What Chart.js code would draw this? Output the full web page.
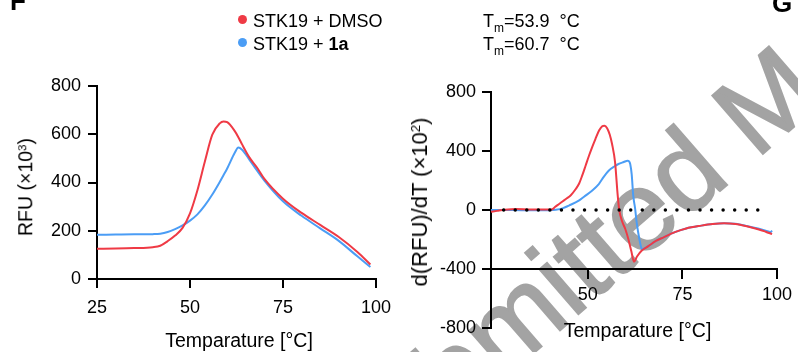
<!DOCTYPE html>
<html>
<head>
    <title>STK19 thermal shift</title>
    <script src="https://cdn.jsdelivr.net/npm/chart.js"></script>
    <style>
        body { margin: 0; width: 798px; height: 352px; position: relative; overflow: hidden; background: #fff;
               font-family: Arial, "Liberation Sans", sans-serif; color: #000; }
        .abs { position: absolute; white-space: nowrap; line-height: 1; }
        .xtitle { font-size: 19.5px; transform: translate(-50%, -50%); }
        .ytitle { font-size: 19.5px; transform: translate(-50%, -50%) rotate(-90deg); }
        .legend { font-size: 18px; }
        .dot { position: absolute; width: 9px; height: 9px; border-radius: 50%; }
        sup { font-size: 0.6em; vertical-align: 0.55em; line-height: 0; }
        sub { font-size: 12px; vertical-align: -5px; line-height: 0; }
        canvas { position: absolute; top: 0; }
    </style>
</head>
<body>
    <canvas id="mark" width="798" height="352" style="left:0"></canvas>
    <canvas id="meltChart" width="400" height="352" style="left:0"></canvas>
    <canvas id="derivChart" width="398" height="352" style="left:400px"></canvas>

    <div class="abs" style="left:10px; top:-12px; font-size:26px; font-weight:bold;">F</div>
    <div class="abs" style="left:772px; top:-10px; font-size:26px; font-weight:bold;">G</div>

    <!-- legend -->
    <div class="dot" style="left:238px; top:15px; background:#ef3a45;"></div>
    <div class="dot" style="left:238px; top:38px; background:#4b9df5;"></div>
    <div class="abs legend" style="left:253px; top:11.5px;">STK19 + DMSO</div>
    <div class="abs legend" style="left:253px; top:34.8px;">STK19 + <b>1a</b></div>
    <div class="abs legend" style="left:483px; top:11.5px;">T<sub>m</sub>=53.9&nbsp; °C</div>
    <div class="abs legend" style="left:483px; top:34.8px;">T<sub>m</sub>=60.7&nbsp; °C</div>

    <!-- axis titles -->
    <div class="abs xtitle" style="left:239px; top:341px;">Temparature [°C]</div>
    <div class="abs xtitle" style="left:637.5px; top:331px;">Temparature [°C]</div>
    <div class="abs ytitle" style="left:25.5px; top:187px;">RFU (×10<sup>3</sup>)</div>
    <div class="abs ytitle" style="left:419.5px; top:201.5px; font-size:22px;">d(RFU)/dT (×10<sup>2</sup>)</div>

<script>
const redColor = '#ef3a45';
const blueColor = '#4b9df5';

// melt curves, RFU x10^3
const meltTemps = [25, 30, 35, 40, 42, 44, 46, 48, 50, 52, 54, 56, 58, 59, 60, 62, 63, 64, 66, 68, 70, 75, 80, 85, 90, 95, 98.5];
const meltDmso  = [125, 126, 128, 132, 138, 157, 180, 212, 272, 368, 487, 598, 645, 653, 650, 614, 588, 558, 503, 462, 415, 333, 274, 224, 174, 112, 60];
const melt1a    = [183, 184, 185, 186, 188, 195, 207, 222, 242, 268, 305, 350, 402, 430, 458, 522, 545, 536, 494, 450, 408, 322, 262, 210, 158, 94, 50];
const meltXTicks = [25, 50, 75, 100];
const meltYTicks = [0, 200, 400, 600, 800];

// first derivative, d(RFU)/dT x10^2
const derivTempsDmso = [24.4, 26, 28, 31, 35, 40, 40.6, 41.3, 42.4, 43.3, 44.2, 45.5, 46.8, 47.7, 48.5, 49.4, 50.3, 51.2, 52, 53, 53.8, 54.4, 55.1, 55.8, 56.4, 57.2, 57.9, 58.3, 59.1, 59.9, 60.7, 61.5, 62.2, 63, 64.2, 66, 68, 70, 73, 76, 80, 83, 86, 89, 92, 95, 97, 98.7];
const derivDmso      = [-12, -6, 1, 6, 3, 3, 5, 20, 41, 58, 75, 100, 142, 180, 233, 300, 368, 430, 481, 540, 568, 572, 555, 510, 447, 323, 97, 0, -80, -129, -197, -280, -350, -315, -276, -245, -210, -185, -150, -125, -106, -95, -90, -95, -110, -130, -147, -163];
const derivTemps1a = [24.4, 30, 35, 40, 41.5, 43.3, 45, 47.6, 49, 51.1, 52.9, 54.2, 55.5, 57, 58.1, 59.5, 60.5, 60.9, 61.2, 61.6, 62, 62.5, 62.9, 63.3, 63.8, 64.3, 65, 66, 68, 70, 73, 76, 80, 83, 86, 89, 92, 95, 97, 98.3, 98.7];
const deriv1a      = [0, 0, -2, -1, 2, 11, 30, 63, 90, 131, 176, 225, 266, 295, 312, 325, 334, 330, 312, 240, 97, 10, -83, -151, -220, -268, -258, -245, -210, -185, -150, -125, -106, -95, -90, -94, -108, -126, -140, -150, -140];
const zeroTemps = [27.75, 97.6];
const zeroVals  = [0, 0];
const derivXTicks = [50, 75, 100];
const derivYTicks = [-800, -400, 0, 400, 800];

function points(xs, ys) {
    return xs.map((x, i) => ({ x: x, y: ys[i] }));
}

function curve(xs, ys, color) {
    return {
        data: points(xs, ys),
        borderColor: color,
        borderWidth: 2,
        pointRadius: 0,
        cubicInterpolationMode: 'monotone'
    };
}

function axis(tickValues, padding, extra) {
    return Object.assign({
        type: 'linear',
        afterBuildTicks: s => { s.ticks = tickValues.map(v => ({ value: v })); },
        grid: { drawOnChartArea: false, color: '#000', lineWidth: 2, tickLength: 9 },
        border: { color: '#000', width: 2 },
        ticks: { color: '#000', padding: padding, maxRotation: 0, font: { size: 18 } }
    }, extra);
}

Chart.defaults.font.family = 'Arial, "Liberation Sans", sans-serif';

// watermark behind the charts
const mk = document.getElementById('mark').getContext('2d');
mk.save();
mk.translate(352, 511);
mk.rotate(-41 * Math.PI / 180);
mk.font = '112px Arial, "Liberation Sans", sans-serif';
mk.fillStyle = '#a3a3a3';
mk.strokeStyle = '#a3a3a3';
mk.lineWidth = 2;
mk.fillText('Submitted Manuscript', 0, 0);
mk.strokeText('Submitted Manuscript', 0, 0);
mk.restore();

new Chart(document.getElementById('meltChart'), {
    type: 'line',
    data: {
        datasets: [
            curve(meltTemps, meltDmso, redColor),
            curve(meltTemps, melt1a, blueColor)
        ]
    },
    options: {
        responsive: false,
        animation: false,
        layout: { padding: { left: 0, top: 86, right: 17, bottom: 0 } },
        plugins: { legend: { display: false }, tooltip: { enabled: false } },
        scales: {
            x: axis(meltXTicks, 9, { min: 25, max: 100, afterFit: s => { s.height = 73; } }),
            y: axis(meltYTicks, 7, { min: 0, max: 800, afterFit: s => { s.width = 97; } })
        }
    }
});

new Chart(document.getElementById('derivChart'), {
    type: 'line',
    data: {
        datasets: [
            {
                data: points(zeroTemps, zeroVals),
                borderColor: '#000',
                borderWidth: 3.5,
                borderDash: [0, 11.55],
                borderCapStyle: 'round',
                pointRadius: 0
            },
            curve(derivTempsDmso, derivDmso, redColor),
            curve(derivTemps1a, deriv1a, blueColor)
        ]
    },
    options: {
        responsive: false,
        animation: false,
        layout: { padding: { left: 0, top: 92, right: 17, bottom: 24 } },
        plugins: { legend: { display: false }, tooltip: { enabled: false } },
        scales: {
            x: axis(derivXTicks, 6, { min: 24.4, max: 100, position: { y: -400 } }),
            y: axis(derivYTicks, 6, { min: -800, max: 800, afterFit: s => { s.width = 91; } })
        }
    }
});
</script>
</body>
</html>
